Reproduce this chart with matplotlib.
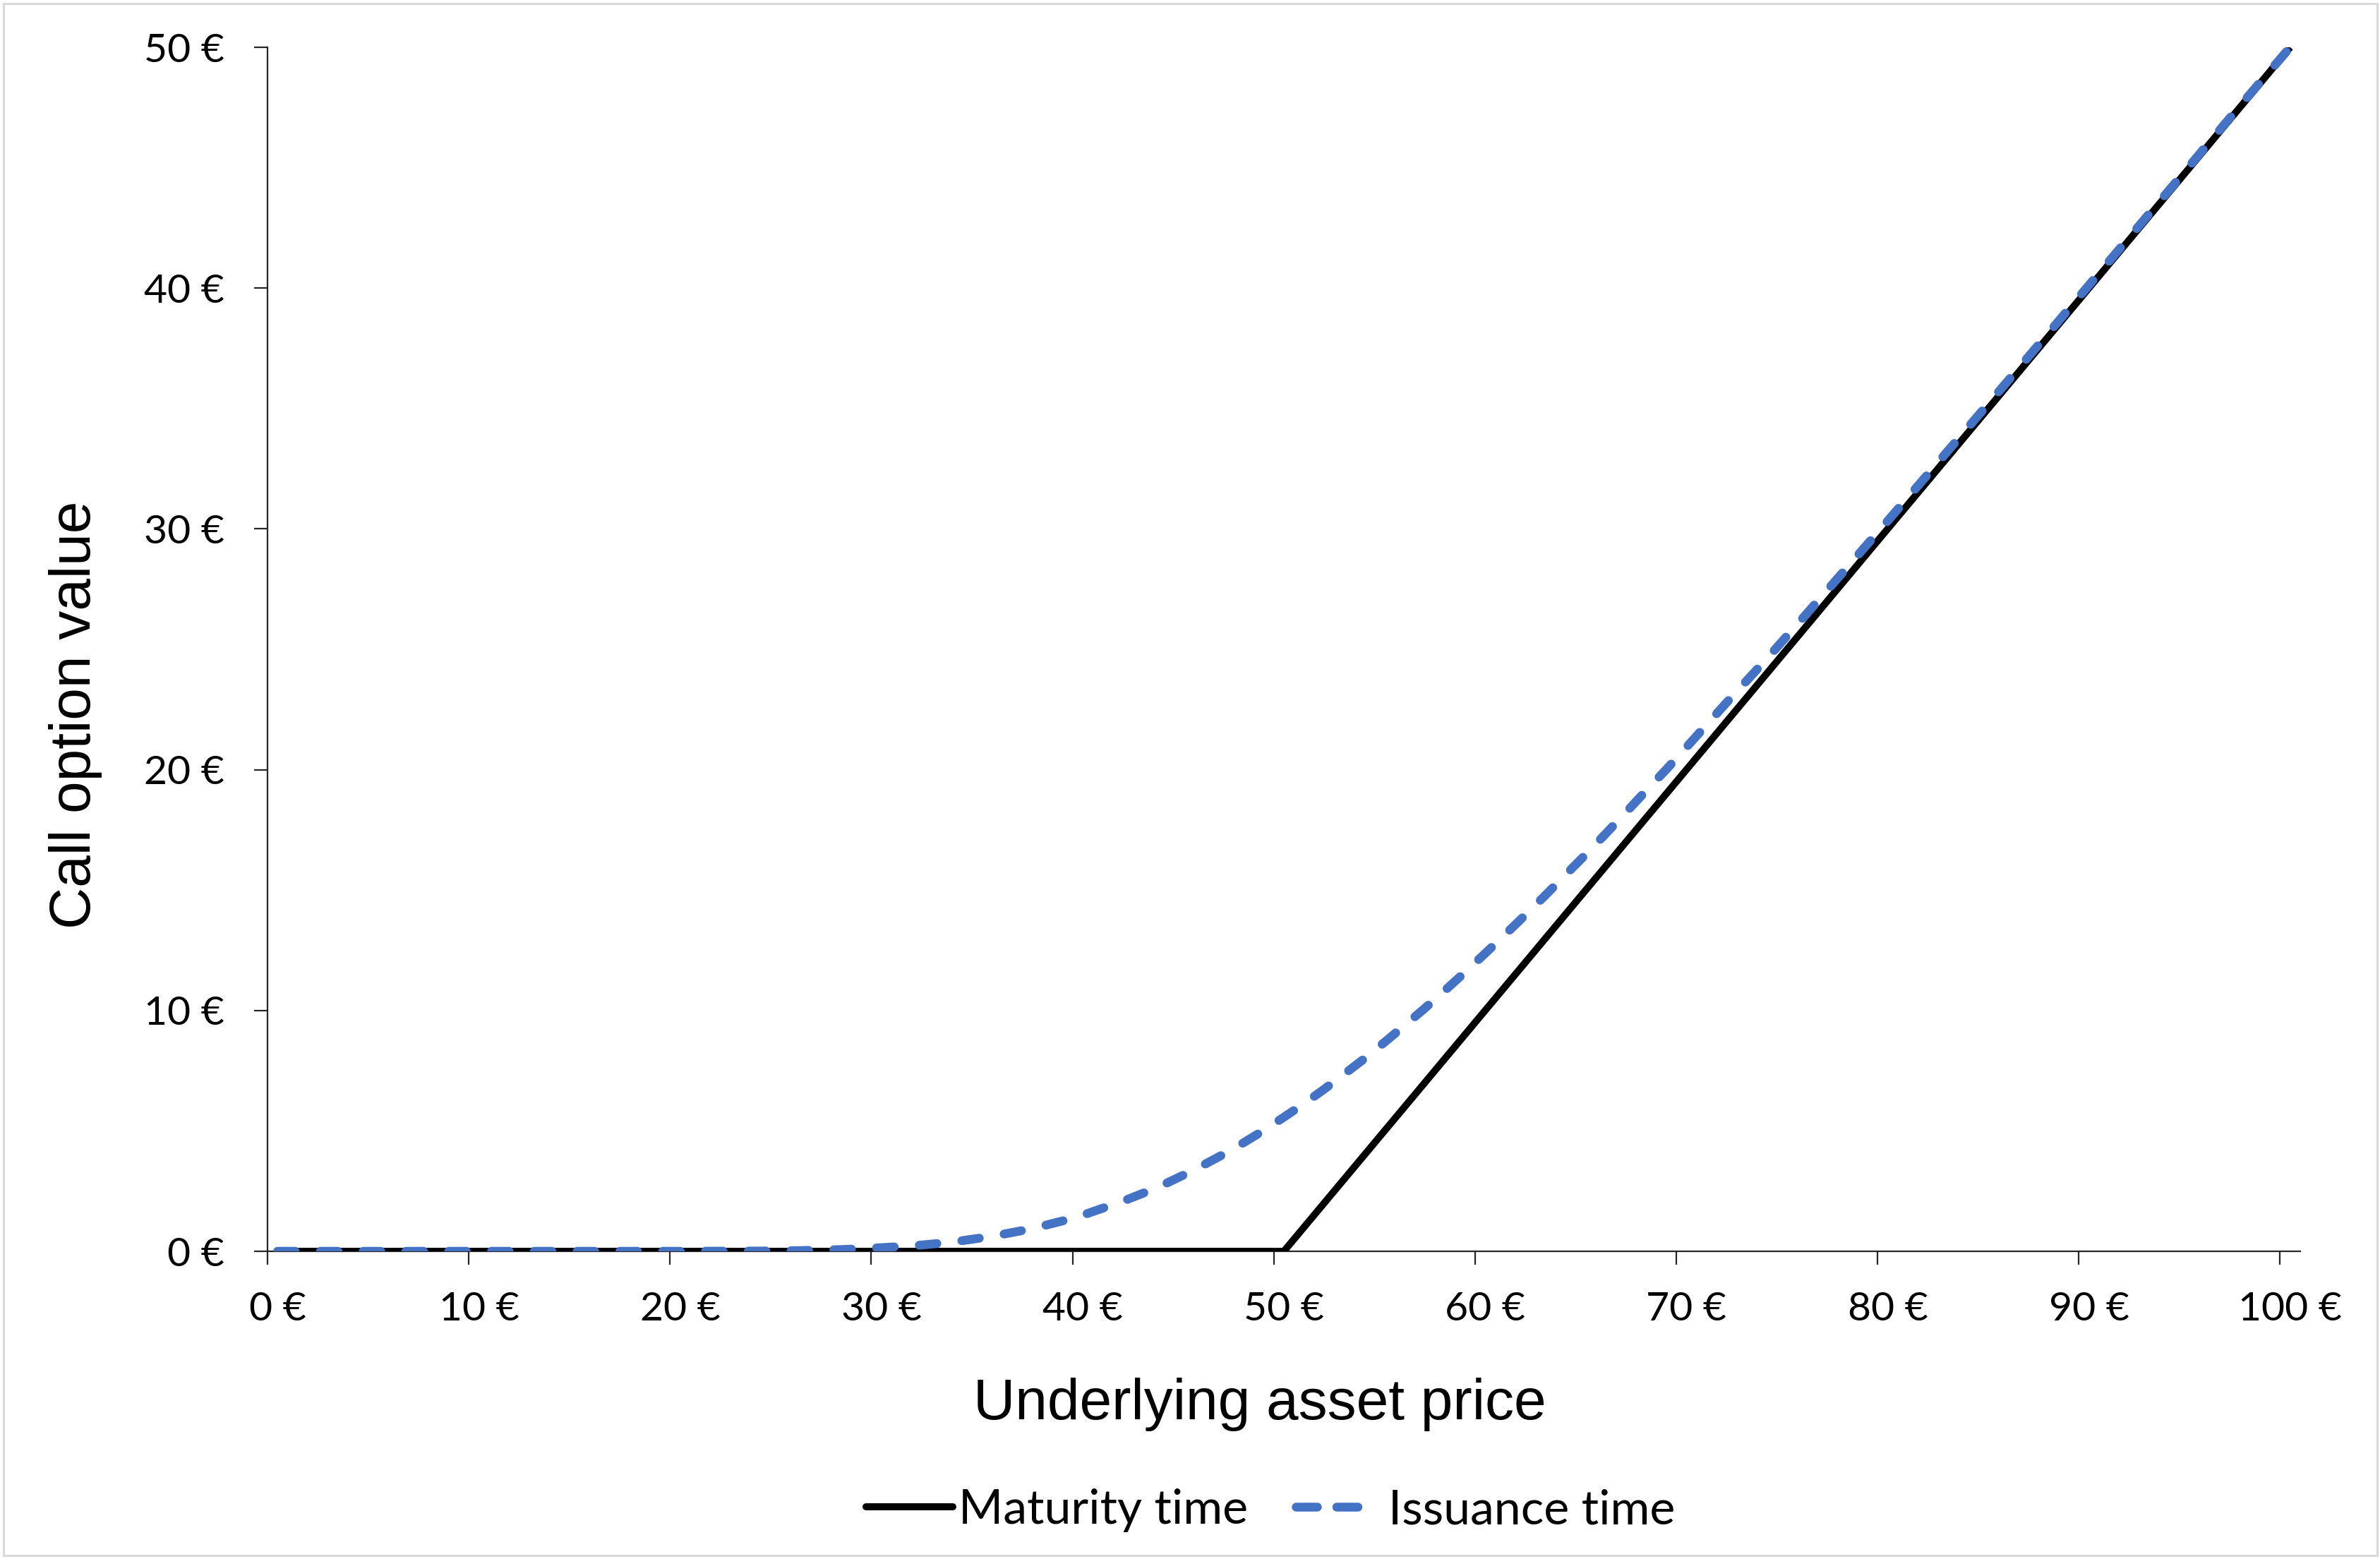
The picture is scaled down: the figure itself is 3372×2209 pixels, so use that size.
import numpy as np
import matplotlib.pyplot as plt
from matplotlib.lines import Line2D
from matplotlib.patches import Rectangle

series_names = ["Maturity time", "Issuance time"]

# call option payoff at maturity
maturity_price = [0, 50, 100]
maturity_value = [0, 0, 50]

# call option value at issuance
issuance_price = [0, 5, 10, 15, 20, 24, 26, 28, 30, 31, 32, 33, 34, 35, 36, 37, 38, 39,
                  40, 41, 42, 43, 44, 45, 46, 47, 48, 49, 50, 51, 52, 53, 54, 55, 56, 57,
                  58, 59, 60, 61, 62, 63, 64, 65, 66, 67, 68, 69, 70, 72, 74, 76, 78, 80,
                  82, 84, 86, 88, 90, 92, 94, 96, 98, 100]
issuance_value = [0, 0, 0, 0, 0, 0.01, 0.03, 0.07, 0.15, 0.20, 0.26, 0.34, 0.44, 0.56, 0.70,
                  0.86, 1.05, 1.26, 1.50, 1.79, 2.08, 2.41, 2.76, 3.16, 3.58, 4.03, 4.51, 5.02,
                  5.57, 6.13, 6.73, 7.36, 8.00, 8.68, 9.38, 10.09, 10.83, 11.59, 12.37, 13.16,
                  13.97, 14.79, 15.64, 16.48, 17.35, 18.23, 19.13, 20.01, 20.93, 22.79, 24.61,
                  26.50, 28.41, 30.33, 32.27, 34.22, 36.17, 38.14, 40.12, 42.10, 44.08, 46.07,
                  48.05, 50.0]

xtick_values = [0, 10, 20, 30, 40, 50, 60, 70, 80, 90, 100]
ytick_values = [0, 10, 20, 30, 40, 50]

W, H = 3373, 2209
fig = plt.figure(figsize=(W / 100, H / 100), dpi=100)
ax = fig.add_axes([379 / W, 1 - 1773 / H, (3259 - 379) / W, (1773 - 67) / H])

tick_font = "Lato"
label_font = "Liberation Sans"
blue = "#4472C4"

ax.plot(maturity_price, maturity_value, color="black", lw=7.2,
        solid_capstyle="butt", solid_joinstyle="miter", zorder=3)
ax.plot(issuance_price, issuance_value, color=blue, lw=9.0, dashes=(2.0, 2.85),
        dash_capstyle="round", zorder=4)

# category-style axis: ticks sit between categories, labels on them
ax.set_xlim(-0.5, 100.5)
ax.set_ylim(0, 50)
ax.set_xticks([v - 0.5 for v in xtick_values])
ax.set_xticklabels([])
ax.set_xticks(xtick_values, minor=True)
ax.set_xticklabels([f"{v} €" for v in xtick_values], minor=True,
                   fontfamily=tick_font, fontsize=41)
ax.tick_params(axis="x", which="major", direction="out", length=14, width=1.6, color="#262626")
ax.tick_params(axis="x", which="minor", length=0, pad=41)

ax.set_yticks(ytick_values)
ax.set_yticklabels([f"{v} €" for v in ytick_values], fontfamily=tick_font, fontsize=41)
ax.tick_params(axis="y", direction="out", length=14, width=1.6, color="#262626", pad=30)

for side in ["top", "right"]:
    ax.spines[side].set_visible(False)
for side in ["left", "bottom"]:
    ax.spines[side].set_color("#262626")
    ax.spines[side].set_linewidth(1.6)

fig.text(1785 / W, 1 - 2011 / H, "Underlying asset price", fontfamily=label_font,
         fontsize=59, ha="center", va="baseline")
fig.text(128 / W, 1 - 1013 / H, "Call option value", fontfamily=label_font,
         fontsize=59, rotation=90, rotation_mode="anchor", ha="center", va="baseline")

handles = [
    Line2D([], [], color="black", lw=7.2, solid_capstyle="round"),
    Line2D([], [], color=blue, lw=9.0, dashes=(2.4, 2.2, 2.4, 12), dash_capstyle="round"),
]
fig.legend(handles, series_names, loc="center", bbox_to_anchor=(1800 / W, 1 - 2140 / H),
           ncol=2, frameon=False, prop={"family": tick_font, "size": 49},
           handlelength=1.8, handletextpad=0.12, columnspacing=1.0)

fig.patches.append(Rectangle((5 / W, 5 / H), (W - 10) / W, (H - 10) / H,
                             transform=fig.transFigure, fill=False,
                             edgecolor="#d9d9d9", lw=2.2))

fig.savefig("out.png", dpi=100, facecolor="white")
